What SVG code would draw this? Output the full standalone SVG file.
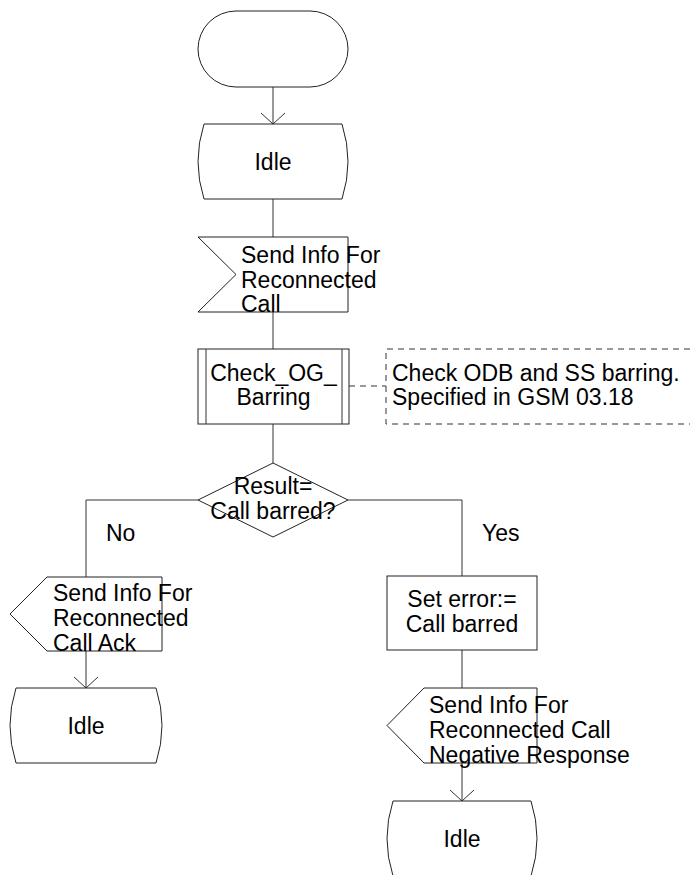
<svg xmlns="http://www.w3.org/2000/svg" width="690" height="875" viewBox="0 0 690 875">
<style>
.s{fill:#fff;stroke:#222;stroke-width:1}
.c{fill:none;stroke:#333;stroke-width:1}
.d{fill:none;stroke:#333;stroke-width:1;stroke-dasharray:6 5}
text{font-family:"Liberation Sans",Arial,sans-serif;font-size:23px;fill:#000}
.m{text-anchor:middle}
</style>
<g id="connectors">
<line class="c" x1="273" y1="87" x2="273" y2="124"/>
<polyline class="c" points="261,113 273,124 285,113"/>
<line class="c" x1="273" y1="199" x2="273" y2="237"/>
<line class="c" x1="273" y1="312" x2="273" y2="349"/>
<line class="c" x1="273" y1="424" x2="273" y2="463"/>
<polyline class="c" points="198,500 86,500 86,577"/>
<polyline class="c" points="348,500 462,500 462,576"/>
<line class="c" x1="86" y1="651" x2="86" y2="688"/>
<polyline class="c" points="74,677 86,688 98,677"/>
<line class="c" x1="462" y1="650" x2="462" y2="688"/>
<line class="c" x1="462" y1="763" x2="462" y2="801"/>
<polyline class="c" points="450,790 462,801 474,790"/>
<line class="d" x1="349" y1="386" x2="386" y2="386"/>
</g>
<g id="start">
<rect class="s" x="198" y="11" width="150" height="76" rx="38" ry="38"/>
</g>
<g id="idle1">
<path class="s" d="M204,124 L342,124 Q354,161.5 342,199 L204,199 Q192,161.5 204,124 Z"/>
<text class="m" x="273" y="170">Idle</text>
</g>
<g id="input1">
<polygon class="s" points="198,237 348,237 348,312 198,312 236,274.5"/>
<text x="241" y="263">Send Info For</text>
<text x="241" y="287.5">Reconnected</text>
<text x="241" y="312">Call</text>
</g>
<g id="proc">
<rect class="s" x="198" y="349" width="151" height="75"/>
<line class="c" x1="206" y1="349" x2="206" y2="424"/>
<line class="c" x1="342" y1="349" x2="342" y2="424"/>
<text class="m" x="273.5" y="381">Check_OG_</text>
<text class="m" x="273.5" y="405">Barring</text>
</g>
<g id="comment">
<path class="d" d="M690,349 H386 V424 H690"/>
<text x="392" y="381">Check ODB and SS barring.</text>
<text x="392" y="405">Specified in GSM 03.18</text>
</g>
<g id="decision">
<polygon class="s" points="273,463 348,500 273,537 198,500"/>
<text class="m" x="273" y="494">Result=</text>
<text class="m" x="273" y="519">Call barred?</text>
</g>
<text x="106" y="541">No</text>
<text x="482" y="541">Yes</text>
<g id="output1">
<polygon class="s" points="47,577 162,577 162,651 47,651 10,614"/>
<text x="53" y="601">Send Info For</text>
<text x="53" y="626">Reconnected</text>
<text x="53" y="651">Call Ack</text>
</g>
<g id="idle2">
<path class="s" d="M16,688 L156,688 Q168,725.5 156,763 L16,763 Q4,725.5 16,688 Z"/>
<text class="m" x="86" y="734">Idle</text>
</g>
<g id="task">
<rect class="s" x="387" y="576" width="150" height="74"/>
<text class="m" x="462" y="607">Set error:=</text>
<text class="m" x="462" y="632">Call barred</text>
</g>
<g id="output2">
<polygon class="s" points="424,688 537,688 537,763 424,763 387,725.5"/>
<text x="429" y="713">Send Info For</text>
<text x="429" y="738">Reconnected Call</text>
<text x="429" y="763">Negative Response</text>
</g>
<g id="idle3">
<path class="s" d="M393,801 L531,801 Q543,838.5 531,876 L393,876 Q381,838.5 393,801 Z"/>
<text class="m" x="462" y="847">Idle</text>
</g>
</svg>
